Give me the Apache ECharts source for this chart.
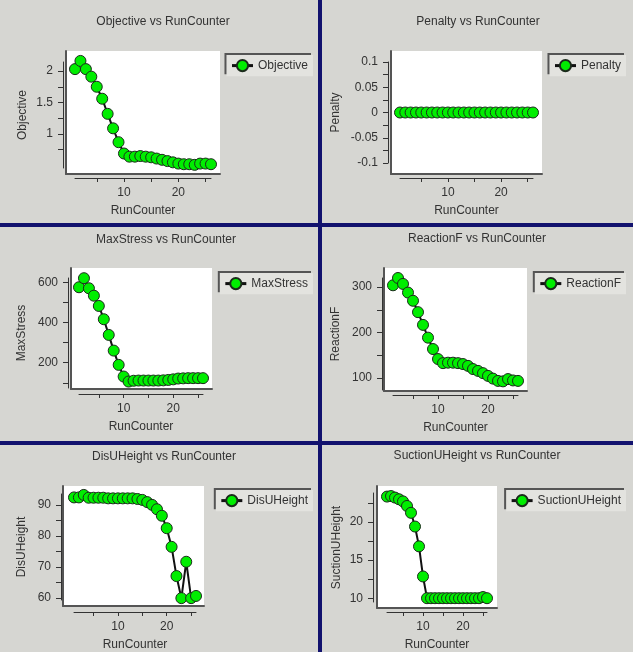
<!DOCTYPE html>
<html><head><meta charset="utf-8">
<script src="https://cdn.jsdelivr.net/npm/echarts@6/dist/echarts.min.js"></script>
<style>html,body{margin:0;padding:0;background:#d6d6d2}#c{width:633px;height:652px}</style>
</head><body><div id="c"></div>
<script>
// ---------------- data ----------------
const runCounter = [1,2,3,4,5,6,7,8,9,10,11,12,13,14,15,16,17,18,19,20,21,22,23,24,25,26];
const objective = [2.03,2.16,2.03,1.91,1.75,1.56,1.32,1.09,0.87,0.69,0.64,0.64,0.65,0.64,0.63,0.61,0.59,0.57,0.55,0.53,0.52,0.52,0.51,0.53,0.53,0.52];
const penalty = [0,0,0,0,0,0,0,0,0,0,0,0,0,0,0,0,0,0,0,0,0,0,0,0,0,0];
const maxStress = [575,620,570,533,482,416,338,260,189,131,106,110,111,111,111,111,111,112,114,117,121,122,123,123,123,123];
const reactionF = [304,320,307,288,270,245,217,189,164,142,133,134,134,133,131,127,120,116,111,105,99,94,93,98,95,94];
const disUHeight = [92.4,92.4,93.2,92.3,92.3,92.3,92.3,92.1,92.1,92.1,92.1,92.1,92.1,91.9,91.6,90.9,90.0,88.6,86.5,82.5,76.5,67.1,60.0,71.7,60.0,60.7];
const suctionUHeight = [23.33,23.4,23.2,22.98,22.7,22.1,21.2,19.4,16.8,12.85,10.0,10.0,10.0,10.0,10.0,10.0,10.0,10.0,10.0,10.0,10.0,10.0,10.0,10.0,10.15,10.0];

// tick values / labels
const xTickValues = [5,10,15,20,25];
const xLabelValues = [10,20];
const objectiveTicks = [0.75,1,1.25,1.5,1.75,2];
const objectiveLabels = [1,1.5,2];
const penaltyTicks = [-0.1,-0.075,-0.05,-0.025,0,0.025,0.05,0.075,0.1];
const penaltyLabels = [-0.1,-0.05,0,0.05,0.1];
const maxStressTicks = [100,200,300,400,500,600];
const maxStressLabels = [200,400,600];
const reactionFTicks = [100,150,200,250,300];
const reactionFLabels = [100,200,300];
const disUHeightTicks = [60,65,70,75,80,85,90];
const disUHeightLabels = [60,70,80,90];
const suctionUHeightTicks = [10,12.5,15,17.5,20,22.5];
const suctionUHeightLabels = [10,15,20];

// axis ranges
const xRange = [1, 26];
const objectiveRange = [0.46, 2.143];
const penaltyRange = [-0.1, 0.1];
const maxStressRange = [74, 621];
const reactionFRange = [74, 320];
const disUHeightRange = [59.4, 93.5];
const suctionUHeightRange = [9.5, 23.8];

// ---------------- layout ----------------
const FONT = 'Liberation Sans, Arial, sans-serif';
const panels = [
  {name:'Objective', values:objective, ticks:objectiveTicks, labels:objectiveLabels, range:objectiveRange,
   box:[66,51,220,174], grid:[75,62,211,168], yOff:12, xOff:10, yGap:34, title:[163,23], legend:[320,55]},
  {name:'Penalty', values:penalty, ticks:penaltyTicks, labels:penaltyLabels, range:penaltyRange,
   box:[391,51,542,174], grid:[400,62,533,163], yOff:12, xOff:15, yGap:46, title:[478,23], legend:[7,55]},
  {name:'MaxStress', values:maxStress, ticks:maxStressTicks, labels:maxStressLabels, range:maxStressRange,
   box:[71,268,212,389], grid:[79,278,203,388], yOff:11, xOff:6, yGap:40, title:[166,241], legend:[320,273]},
  {name:'ReactionF', values:reactionF, ticks:reactionFTicks, labels:reactionFLabels, range:reactionFRange,
   box:[384,268,527,391], grid:[393,278,518,390], yOff:11, xOff:5, yGap:40, title:[477,240], legend:[7,273]},
  {name:'DisUHeight', values:disUHeight, ticks:disUHeightTicks, labels:disUHeightLabels, range:disUHeightRange,
   box:[63,486,204,606], grid:[74,494,196,601], yOff:13, xOff:12, yGap:33, title:[164,458], legend:[320,490]},
  {name:'SuctionUHeight', values:suctionUHeight, ticks:suctionUHeightTicks, labels:suctionUHeightLabels, range:suctionUHeightRange,
   box:[377,486,497,608], grid:[387,493,487,603], yOff:14, xOff:10, yGap:30, title:[477,457], legend:[7,490]}
];

const rect = r => ({left:r[0], top:r[1], width:r[2]-r[0], height:r[3]-r[1]});
const grids = [], xAxes = [], yAxes = [], series = [], titles = [], legends = [];

panels.forEach((p) => {
  grids.push(Object.assign({show:true, backgroundColor:'#ffffff', borderWidth:0}, rect(p.box)));
  xAxes.push({type:'value', gridIndex:grids.length-1, position:'top', min:0, max:1, silent:true,
    axisLine:{show:true, lineStyle:{color:'#555', width:2}}, axisTick:{show:false}, axisLabel:{show:false}, splitLine:{show:false}});
  yAxes.push({type:'value', gridIndex:grids.length-1, position:'left', min:0, max:1, silent:true,
    axisLine:{show:true, lineStyle:{color:'#555', width:2}}, axisTick:{show:false}, axisLabel:{show:false}, splitLine:{show:false}});
});

panels.forEach((p, i) => {
  grids.push(Object.assign({show:false}, rect(p.grid)));
  const gi = grids.length - 1;
  xAxes.push({type:'value', gridIndex:gi, min:xRange[0], max:xRange[1], offset:p.xOff,
    name:'RunCounter', nameLocation:'middle', nameGap:27,
    nameTextStyle:{fontSize:12, color:'#333', fontFamily:FONT},
    axisLine:{show:true, onZero:false, lineStyle:{color:'#333', width:1}},
    axisTick:{show:true, length:4, customValues:xTickValues, lineStyle:{color:'#333'}},
    axisLabel:{show:true, margin:9, customValues:xLabelValues, fontSize:12, color:'#333', fontFamily:FONT},
    splitLine:{show:false}});
  yAxes.push({type:'value', gridIndex:gi, min:p.range[0], max:p.range[1], offset:p.yOff,
    name:p.name, nameLocation:'middle', nameGap:p.yGap,
    nameTextStyle:{fontSize:12, color:'#333', fontFamily:FONT},
    axisLine:{show:true, onZero:false, lineStyle:{color:'#333', width:1}},
    axisTick:{show:true, length:5, customValues:p.ticks, lineStyle:{color:'#333'}},
    axisLabel:{show:true, margin:10, customValues:p.labels, fontSize:12, color:'#333', fontFamily:FONT},
    splitLine:{show:false}});
  series.push({name:p.name, type:'line', xAxisIndex:gi, yAxisIndex:gi, clip:false,
    data: runCounter.map((x, k) => [x, p.values[k]]),
    symbol:'circle', symbolSize:11, showAllSymbol:true,
    itemStyle:{color:'#00ee00', borderColor:'#1b2b1b', borderWidth:1},
    lineStyle:{color:'#111', width:2}, emphasis:{disabled:true}});
  titles.push({text:p.name + ' vs RunCounter', left:p.title[0], top:p.title[1]-7, textAlign:'center', padding:0,
    textStyle:{fontSize:12, fontWeight:'normal', color:'#333', fontFamily:FONT}});
  legends.push({data:[p.name], right:p.legend[0], top:p.legend[1], selectedMode:false,
    backgroundColor:'#e3e3df', padding:[4,5,4,4], itemWidth:21, itemHeight:14,
    lineStyle:{width:3, color:'#111'},
    shadowColor:'#555', shadowOffsetX:-2, shadowOffsetY:-2, shadowBlur:0,
    textStyle:{fontSize:12, color:'#333', fontFamily:FONT}});
});

const NAVY = '#12126e';
const chart = echarts.init(document.getElementById('c'), null, {renderer:'canvas'});
chart.setOption({
  backgroundColor:'#d6d6d2',
  animation:false,
  title:titles, legend:legends, grid:grids, xAxis:xAxes, yAxis:yAxes, series:series,
  graphic:[
    {type:'rect', shape:{x:318, y:0, width:4, height:652}, style:{fill:NAVY}, z:100},
    {type:'rect', shape:{x:0, y:223, width:633, height:4}, style:{fill:NAVY}, z:100},
    {type:'rect', shape:{x:0, y:441, width:633, height:4}, style:{fill:NAVY}, z:100}
  ]
});
</script></body></html>
